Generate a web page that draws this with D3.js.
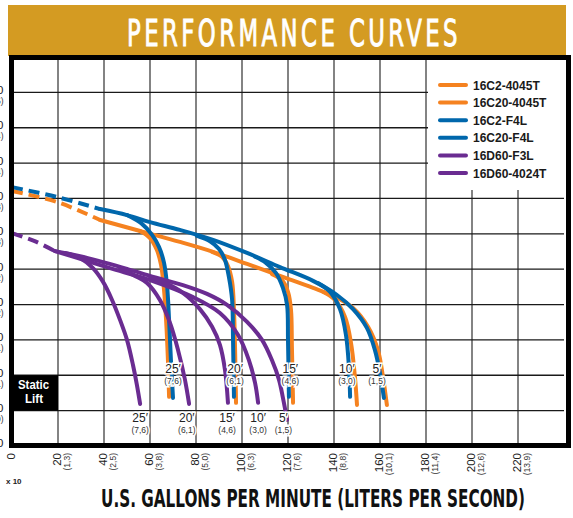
<!DOCTYPE html>
<html>
<head>
<meta charset="utf-8">
<script src="https://cdn.jsdelivr.net/npm/d3@7"></script>
<style>
  body { margin: 0; background: #fff; }
  svg { display: block; font-family: "Liberation Sans", Arial, sans-serif; }
</style>
</head>
<body>
<svg id="chart" width="573" height="518"></svg>
<script>
/* ---- tick labels ---- */
const xTicks = [0, 20, 40, 60, 80, 100, 120, 140, 160, 180, 200, 220];
const xTickMeters = ["", "(1,3)", "(2,5)", "(3,8)", "(5,0)", "(6,3)", "(7,6)", "(8,8)", "(10,1)", "(11,4)", "(12,6)", "(13,9)"];
const yTicks = [0, 10, 20, 30, 40, 50, 60, 70, 80, 90, 100];
const yTickMeters = ["", "(3,0)", "(6,1)", "(9,1)", "(12,2)", "(15,2)", "(18,3)", "(21,3)", "(24,4)", "(27,4)", "(30,5)"];

/* ---- legend ---- */
const legendNames = ["16C2-4045T", "16C20-4045T", "16C2-F4L", "16C20-F4L", "16D60-F3L", "16D60-4024T"];
const legendColors = ["#F58220", "#F58220", "#0067AC", "#0067AC", "#6A2C91", "#6A2C91"];

/* ---- curves: [gpm, feet] ---- */
const orangeDash = [[0, 72.1], [19.6, 69.0], [38.3, 63.9]];
const orangeMain = [[38.3, 63.9], [55.7, 60.8], [73.0, 57.7], [87.4, 54.9], [102.2, 51.5], [116.5, 48.1],
  [130.9, 44.7], [141.3, 41.9], [148.3, 39.0], [154.8, 33.7], [159.1, 27.1], [161.3, 19.5], [163.0, 11.6]];
const orange25 = [[55.7, 60.8], [60.0, 58.8], [63.0, 55.4], [64.8, 51.2], [66.1, 44.1], [67.0, 35.6], [67.8, 24.3], [68.3, 13.9]];
const orange20 = [[87.0, 54.9], [91.3, 53.5], [93.9, 50.9], [95.7, 46.4], [96.5, 38.5], [97.0, 27.1], [97.4, 12.2]];
const orange15 = [[113.0, 48.6], [117.4, 46.9], [120.0, 43.6], [121.3, 38.5], [121.7, 28.0], [122.2, 12.2]];
const orange10 = [[135.2, 43.6], [140.4, 41.3], [144.8, 36.5], [147.4, 29.1], [149.1, 19.5], [150.0, 11.6]];

const blueDash = [[0, 73.2], [19.6, 70.4], [38.3, 67.0]];
const blueMain = [[38.3, 67.0], [50.0, 65.3], [60.0, 63.3], [73.0, 61.1], [87.4, 58.3], [102.2, 54.6], [116.5, 50.6],
  [130.9, 46.7], [141.3, 42.7], [148.3, 38.7], [154.3, 33.4], [157.8, 27.1], [160.0, 20.6], [161.7, 13.6]];
const blue25 = [[50.0, 65.3], [56.5, 62.8], [60.9, 59.7], [63.9, 56.3], [66.1, 51.8], [67.4, 45.5], [68.3, 35.6], [69.1, 24.3], [70.0, 13.6]];
const blue20 = [[80.4, 59.4], [86.1, 57.9], [90.0, 55.7], [92.6, 52.6], [94.3, 47.8], [95.7, 41.3], [96.1, 30.0], [96.5, 13.9]];
const blue15 = [[105.7, 53.5], [110.4, 51.8], [114.8, 48.9], [117.8, 44.7], [119.6, 39.9], [120.0, 30.0], [120.4, 13.9]];
const blue10 = [[133.0, 46.1], [138.3, 43.6], [142.6, 38.7], [145.2, 31.4], [146.5, 22.3], [147.0, 13.9]];

const purpleDash = [[0, 60.2], [9.6, 58.0], [18.7, 55.1]];
const purple5 = [[18.7, 55.1], [29.6, 53.7], [39.6, 52.0], [50.0, 50.1], [60.0, 48.1], [74.3, 45.5], [84.8, 43.0],
  [93.5, 39.9], [102.2, 35.1], [108.7, 30.0], [113.0, 24.3], [116.1, 18.7], [117.8, 13.6], [119.6, 7.4]];
const purple10 = [[18.7, 55.1], [28.3, 53.2], [42.6, 50.3], [60.0, 46.9], [78.7, 42.1], [90.4, 37.6], [98.3, 31.4],
  [103.0, 24.3], [105.7, 17.8], [107.0, 12.2]];
const purple15 = [[60.0, 47.8], [65.7, 46.4], [74.3, 43.3], [81.7, 38.7], [87.0, 33.7], [90.4, 28.6], [92.6, 21.5], [93.9, 12.2]];
const purple20 = [[47.0, 50.3], [53.5, 48.1], [58.7, 46.1], [64.3, 41.3], [68.7, 34.8], [72.2, 27.1], [75.2, 18.7], [77.0, 11.9]];
const purple25 = [[23.0, 54.6], [29.6, 53.2], [35.2, 50.3], [39.6, 46.4], [43.5, 41.3], [47.0, 35.6], [50.0, 30.0],
  [52.6, 22.9], [54.3, 17.3], [55.7, 11.9]];

/* ---- static lift labels ---- */
const liftFeet = ["25′", "20′", "15′", "10′", "5′"];
const liftMeters = ["(7,6)", "(6,1)", "(4,6)", "(3,0)", "(1,5)"];
const pumpLabelGpm = [70, 97, 121, 145.6, 158.7];
const pumpLabelFeet = 21.8;
const purpleLabelGpm = [55.7, 76, 93.5, 107, 118];
const purpleLabelFeet = 7.9;

const svg = d3.select("#chart");

const x = d3.scaleLinear().domain([0, 240]).range([12, 564]);
const y = d3.scaleLinear().domain([0, 110]).range([446, 57]);

/* Title banner */
svg.append("rect")
  .attr("x", 8).attr("y", 5).attr("width", 558).attr("height", 51)
  .attr("fill", "#D49B22");
svg.append("text")
  .attr("x", 127).attr("y", 46)
  .attr("font-family", "'DejaVu Sans Condensed', 'DejaVu Sans', sans-serif")
  .attr("font-size", 37)
  .attr("letter-spacing", 5)
  .attr("textLength", 334)
  .attr("lengthAdjust", "spacingAndGlyphs")
  .attr("fill", "#fff")
  .attr("stroke", "#fff").attr("stroke-width", 0.9)
  .text("PERFORMANCE CURVES");

/* Grid */
const grid = svg.append("g").attr("class", "grid");
grid.selectAll(".vline")
  .data(d3.range(20, 240, 20)).enter()
  .append("line")
  .attr("x1", d => x(d)).attr("x2", d => x(d))
  .attr("y1", y(110)).attr("y2", y(0))
  .attr("stroke", "#5a5a5a").attr("stroke-width", 1.5);
grid.selectAll(".hline")
  .data(d3.range(10, 110, 10)).enter()
  .append("line")
  .attr("x1", x(0)).attr("x2", x(240))
  .attr("y1", d => y(d)).attr("y2", d => y(d))
  .attr("stroke", "#1a1a1a").attr("stroke-width", 1.3);

/* Static lift box */
svg.append("rect")
  .attr("x", x(0)).attr("y", y(20))
  .attr("width", x(20) - x(0)).attr("height", y(10) - y(20))
  .attr("fill", "#000");
svg.append("text")
  .attr("x", 18).attr("y", 389)
  .attr("font-weight", "bold").attr("font-size", 12)
  .attr("textLength", 31).attr("lengthAdjust", "spacingAndGlyphs")
  .attr("fill", "#fff").text("Static");
svg.append("text")
  .attr("x", 25).attr("y", 403)
  .attr("font-weight", "bold").attr("font-size", 12)
  .attr("textLength", 18).attr("lengthAdjust", "spacingAndGlyphs")
  .attr("fill", "#fff").text("Lift");

/* Curves */
const line = d3.line()
  .x(d => x(d[0]))
  .y(d => y(d[1]))
  .curve(d3.curveCatmullRom.alpha(0.5));

const curves = [
  { pts: orangeDash, color: legendColors[0], dash: true },
  { pts: orangeMain, color: legendColors[0] },
  { pts: orange25, color: legendColors[0] },
  { pts: orange20, color: legendColors[0] },
  { pts: orange15, color: legendColors[0] },
  { pts: orange10, color: legendColors[0] },
  { pts: blueDash, color: legendColors[2], dash: true },
  { pts: blueMain, color: legendColors[2] },
  { pts: blue25, color: legendColors[2] },
  { pts: blue20, color: legendColors[2] },
  { pts: blue15, color: legendColors[2] },
  { pts: blue10, color: legendColors[2] },
  { pts: purpleDash, color: legendColors[4], dash: true },
  { pts: purple5, color: legendColors[4] },
  { pts: purple10, color: legendColors[4] },
  { pts: purple15, color: legendColors[4] },
  { pts: purple20, color: legendColors[4] },
  { pts: purple25, color: legendColors[4] }
];

svg.append("g").attr("class", "curves")
  .selectAll("path")
  .data(curves).enter()
  .append("path")
  .attr("d", d => line(d.pts))
  .attr("fill", "none")
  .attr("stroke", d => d.color)
  .attr("stroke-width", 4)
  .attr("stroke-linecap", d => d.dash ? "butt" : "round")
  .attr("stroke-dasharray", d => d.dash ? "11,6" : null);

/* Static lift labels */
function liftLabels(gpms, feet, cls) {
  const g = svg.append("g").attr("class", cls)
    .selectAll("g")
    .data(gpms).enter()
    .append("g")
    .attr("transform", d => `translate(${x(d)}, ${y(feet)})`);
  g.append("text")
    .attr("text-anchor", "middle").attr("y", 4)
    .attr("font-size", 12).attr("fill", "#222")
    .attr("stroke", "#fff").attr("stroke-width", 3).attr("paint-order", "stroke")
    .text((d, i) => liftFeet[i]);
  g.append("text")
    .attr("text-anchor", "middle").attr("y", 15)
    .attr("font-size", 8.5).attr("fill", "#333")
    .attr("stroke", "#fff").attr("stroke-width", 3).attr("paint-order", "stroke")
    .text((d, i) => liftMeters[i]);
}
liftLabels(pumpLabelGpm, pumpLabelFeet, "pump-labels");
liftLabels(purpleLabelGpm, purpleLabelFeet, "purple-labels");

/* Legend */
svg.append("rect")
  .attr("x", 428).attr("y", 60).attr("width", 136).attr("height", 130)
  .attr("fill", "#fff");
const legend = svg.append("g").attr("class", "legend")
  .selectAll("g")
  .data(legendNames).enter()
  .append("g")
  .attr("transform", (d, i) => `translate(440, ${85 + i * 17.6})`);
legend.append("line")
  .attr("x1", 0).attr("x2", 26)
  .attr("stroke", (d, i) => legendColors[i])
  .attr("stroke-width", 4).attr("stroke-linecap", "round");
legend.append("text")
  .attr("x", 33).attr("y", 4.5)
  .attr("font-size", 12).attr("font-weight", "bold").attr("fill", "#1a1a1a")
  .text(d => d);

/* Frame */
svg.append("rect")
  .attr("x", 11.5).attr("y", 57.5).attr("width", 557).attr("height", 388)
  .attr("fill", "none").attr("stroke", "#000").attr("stroke-width", 5);

/* X tick labels (rotated) */
const xt = svg.append("g").attr("class", "x-ticks")
  .selectAll("g")
  .data(xTicks).enter()
  .append("g");
xt.append("text")
  .attr("transform", d => `translate(${x(d) - 1}, 453) rotate(-90)`)
  .attr("text-anchor", "end").attr("dy", "0.35em")
  .attr("font-size", 11.5).attr("fill", "#222")
  .text(d => d);
xt.append("text")
  .attr("transform", d => `translate(${x(d) + 9}, 453) rotate(-90)`)
  .attr("text-anchor", "end").attr("dy", "0.35em")
  .attr("font-size", 8.5).attr("fill", "#333")
  .text((d, i) => xTickMeters[i]);

/* Y tick labels (cut by the page edge, as in the source image) */
const yt = svg.append("g").attr("class", "y-ticks")
  .selectAll("g")
  .data(yTicks).enter()
  .append("g")
  .attr("transform", d => `translate(3.5, ${y(d)})`);
yt.append("text")
  .attr("text-anchor", "end").attr("dy", "0.3em").attr("y", -2)
  .attr("font-size", 11.5).attr("fill", "#222")
  .text(d => d);
yt.append("text")
  .attr("text-anchor", "end").attr("dy", "0.3em").attr("y", 9)
  .attr("font-size", 8.5).attr("fill", "#333")
  .text((d, i) => yTickMeters[i]);

/* x 10 note and axis title */
svg.append("text")
  .attr("x", 6).attr("y", 484)
  .attr("font-size", 8).attr("font-weight", "bold").attr("fill", "#222")
  .text("x 10");
svg.append("text")
  .attr("x", 101).attr("y", 507)
  .attr("font-family", "'DejaVu Sans Condensed', 'DejaVu Sans', sans-serif")
  .attr("font-weight", "bold").attr("font-size", 25)
  .attr("textLength", 424).attr("lengthAdjust", "spacingAndGlyphs")
  .attr("fill", "#111")
  .text("U.S. GALLONS PER MINUTE (LITERS PER SECOND)");
</script>
</body>
</html>
